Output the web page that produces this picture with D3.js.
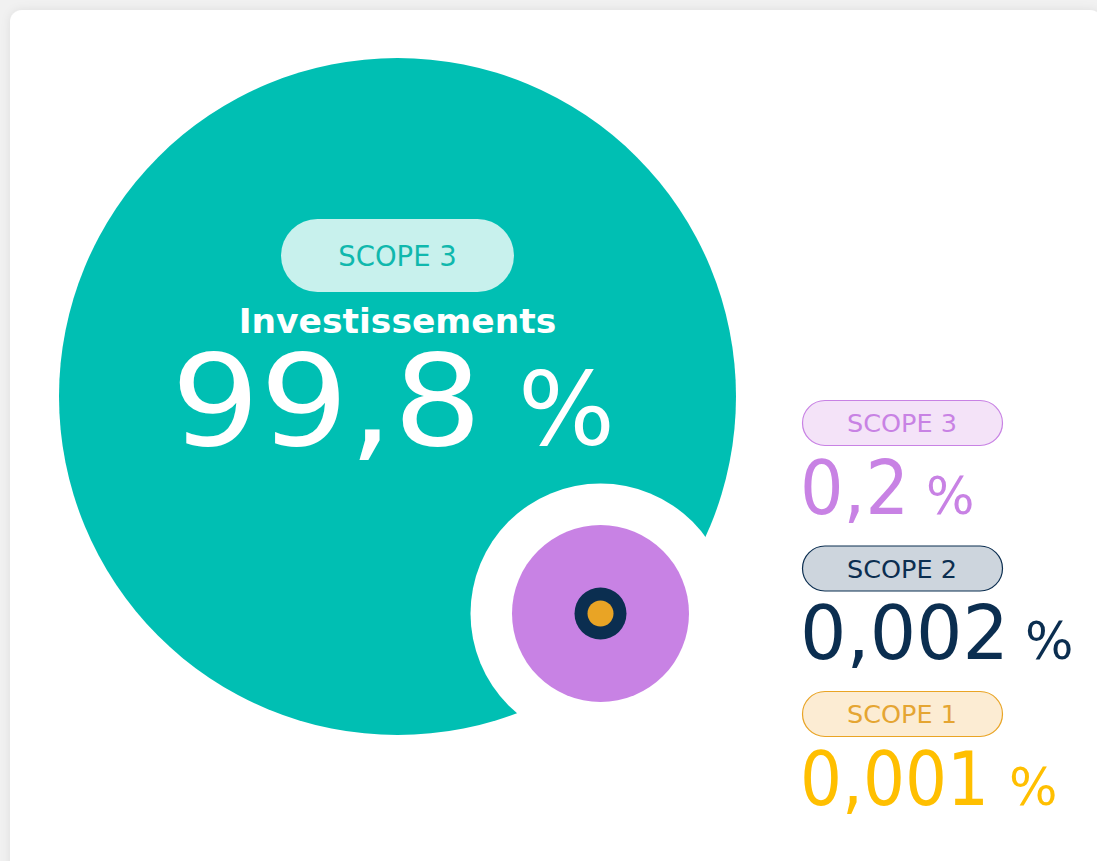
<!DOCTYPE html>
<html>
<head>
<meta charset="utf-8">
<script src="https://cdn.jsdelivr.net/npm/d3@7"></script>
<style>
  html, body { margin: 0; padding: 0; background: #f1f1f1; overflow: hidden; }
  svg { display: block; }
</style>
</head>
<body>
<div id="chart"></div>
<script>
// ---- DATA ----
const categories = ["Investissements", "Scope 3", "Scope 2", "Scope 1"];
const scopes = ["SCOPE 3", "SCOPE 3", "SCOPE 2", "SCOPE 1"];
const shares = [99.8, 0.2, 0.002, 0.001];
const shareLabels = ["99,8", "0,2", "0,002", "0,001"];

// ---- LAYOUT / STYLE ----
const W = 1097, H = 861;
const font = "'DejaVu Sans', sans-serif";
const radius = d3.scaleOrdinal().domain(categories).range([338.5, 88.5, 26, 13]);
const fill = d3.scaleOrdinal().domain(categories).range(["#00bfb3", "#c882e4", "#0b2e50", "#e9a425"]);
const pillFill = d3.scaleOrdinal().domain(categories).range(["#c8f1ed", "#f4e3f8", "#cdd5dd", "#fcecd3"]);
const pillText = d3.scaleOrdinal().domain(categories).range(["#10b8ad", "#c882e4", "#0b2e50", "#e5a532"]);
const valueColor = d3.scaleOrdinal().domain(categories).range(["#ffffff", "#c882e4", "#0b2e50", "#ffbf00"]);
const numLength = d3.scaleOrdinal().domain(categories).range([311, 109, 209, 189]);
const pctOffset = d3.scaleOrdinal().domain(categories).range([347, 124, 223, 207]);

const bigC = {x: 397.5, y: 396.5};
const smallC = {x: 600.5, y: 613.5};
const gapR = 130;

const svg = d3.select("#chart").append("svg").attr("width", W).attr("height", H);
const defs = svg.append("defs");
const f = defs.append("filter").attr("id", "sh").attr("x", "-5%").attr("y", "-5%").attr("width", "110%").attr("height", "110%");
f.append("feDropShadow").attr("dx", 0).attr("dy", 0).attr("stdDeviation", 5).attr("flood-color", "#000").attr("flood-opacity", 0.08);

svg.append("rect").attr("width", W).attr("height", H).attr("fill", "#f1f1f1");
svg.append("rect").attr("x", 10).attr("y", 10).attr("width", 1092).attr("height", 900)
  .attr("rx", 12).attr("fill", "#ffffff").attr("filter", "url(#sh)");

// Big circle
svg.append("circle").attr("cx", bigC.x).attr("cy", bigC.y).attr("r", radius(categories[0])).attr("fill", fill(categories[0]));
// White gap
svg.append("circle").attr("cx", smallC.x).attr("cy", smallC.y).attr("r", gapR).attr("fill", "#ffffff");
// nested small circles
svg.selectAll("circle.small").data(categories.slice(1)).enter().append("circle")
  .attr("class", "small")
  .attr("cx", smallC.x).attr("cy", smallC.y)
  .attr("r", d => radius(d)).attr("fill", d => fill(d));

// Big circle text
const g0 = svg.append("g");
g0.append("rect").attr("x", bigC.x - 116.5).attr("y", 219).attr("width", 233).attr("height", 73)
  .attr("rx", 36.5).attr("fill", pillFill(categories[0]));
g0.append("text").attr("x", bigC.x).attr("y", 265.5).attr("text-anchor", "middle")
  .attr("font-family", font).attr("font-size", 27.5).attr("fill", pillText(categories[0]))
  .text(scopes[0]);
g0.append("text").attr("x", bigC.x).attr("y", 333).attr("text-anchor", "middle")
  .attr("font-family", font).attr("font-weight", "bold").attr("font-size", 34.5)
  .attr("fill", "#ffffff").text(categories[0]);
g0.append("text").attr("x", 171).attr("y", 445)
  .attr("font-family", font).attr("fill", "#ffffff").attr("font-size", 127)
  .attr("textLength", numLength(categories[0])).attr("lengthAdjust", "spacingAndGlyphs")
  .text(shareLabels[0]);
g0.append("text").attr("x", 171 + pctOffset(categories[0])).attr("y", 445)
  .attr("font-family", font).attr("fill", "#ffffff").attr("font-size", 102).text("%");

// Right legend
const lx = 802, pillW = 200, pillH = 45;
const rowY = d3.scalePoint().domain(categories.slice(1)).range([400, 691]);
const rows = svg.selectAll("g.row").data(categories.slice(1)).enter().append("g")
  .attr("class", "row").attr("transform", d => `translate(${lx},${rowY(d)})`);
rows.append("rect").attr("x", 0.5).attr("y", 0.5).attr("width", pillW).attr("height", pillH)
  .attr("rx", pillH / 2).attr("fill", d => pillFill(d)).attr("stroke", d => fill(d)).attr("stroke-width", 1.2);
rows.append("text").attr("x", pillW / 2).attr("y", 32.3).attr("text-anchor", "middle")
  .attr("font-family", font).attr("font-size", 25.5).attr("fill", d => pillText(d))
  .text(d => scopes[categories.indexOf(d)]);
rows.append("text").attr("x", -2).attr("y", 113.5)
  .attr("font-family", font).attr("fill", d => valueColor(d)).attr("font-size", 74)
  .attr("textLength", d => numLength(d)).attr("lengthAdjust", "spacingAndGlyphs")
  .text(d => shareLabels[categories.indexOf(d)]);
rows.append("text").attr("x", d => pctOffset(d)).attr("y", 113.5)
  .attr("font-family", font).attr("fill", d => valueColor(d)).attr("font-size", 51)
  .text("%");
</script>
</body>
</html>
